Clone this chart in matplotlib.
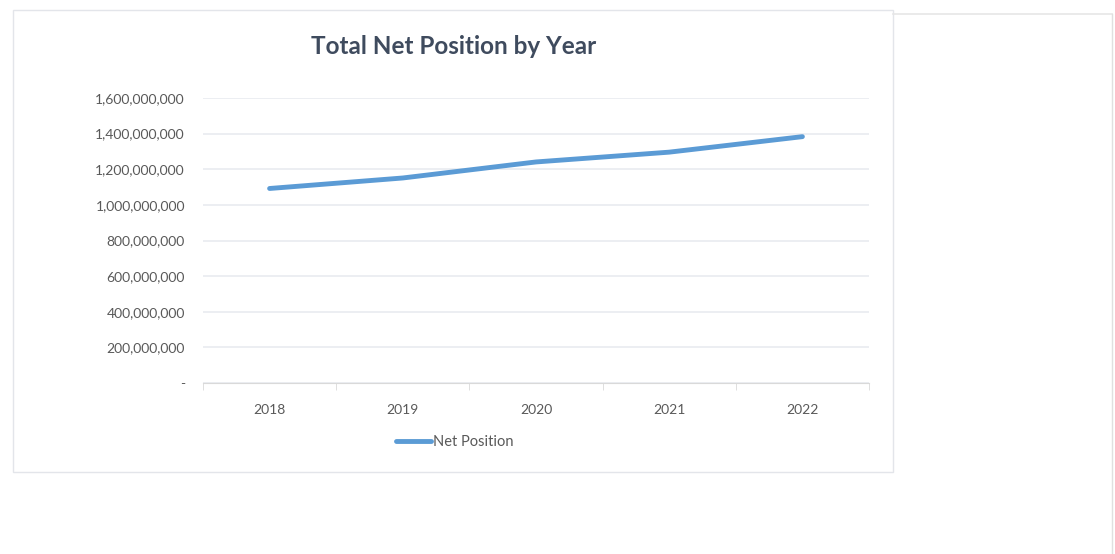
import matplotlib
matplotlib.use("Agg")
import matplotlib.pyplot as plt
from matplotlib.patches import Rectangle
from matplotlib.ticker import FuncFormatter, FixedLocator

# data
years = ["2018", "2019", "2020", "2021", "2022"]
net_position = [1092000000, 1151000000, 1241000000, 1296000000, 1383000000]
y_ticks = [0, 200000000, 400000000, 600000000, 800000000,
           1000000000, 1200000000, 1400000000, 1600000000]

plt.rcParams["font.family"] = ["Lato", "DejaVu Sans"]

W, H = 1115, 554
fig = plt.figure(figsize=(W / 100, H / 100), dpi=100)
fig.patch.set_facecolor("white")

# chart frame + faint panel on the right
fig.patches.append(Rectangle((13 / W, 1 - 472 / H), 880 / W, 462 / H,
                             transform=fig.transFigure, fill=False,
                             edgecolor="#e3e5ea", linewidth=1.0, zorder=0))
fig.add_artist(plt.Line2D([893 / W, 1112 / W], [1 - 14 / H, 1 - 14 / H],
                          transform=fig.transFigure, color="#e6e6e6", lw=1.2))
fig.add_artist(plt.Line2D([1112 / W, 1112 / W], [1 - 14 / H, 0],
                          transform=fig.transFigure, color="#e0e0e0", lw=1.0))

ax = fig.add_axes([203 / W, 1 - 383 / H, 666 / W, 285 / H])
x = list(range(len(years)))
ax.plot(x, net_position, color="#5B9BD5", lw=3.5, solid_capstyle="round",
        label="Net Position", zorder=3)

ax.set_xlim(-0.5, len(years) - 0.5)
ax.set_ylim(0, 1600000000)
ax.set_yticks(y_ticks)
ax.yaxis.set_major_formatter(FuncFormatter(lambda v, p: "-" if v == 0 else f"{v:,.0f}"))
ax.grid(axis="y", color="#e9ebf0", lw=1.2)
ax.set_axisbelow(True)

ax.set_xticks(x)
ax.set_xticklabels(years)
ax.xaxis.set_minor_locator(FixedLocator([i - 0.5 for i in range(len(years) + 1)]))
ax.tick_params(axis="x", which="major", length=0, pad=15, labelsize=10, labelcolor="#595959")
ax.tick_params(axis="x", which="minor", length=5, color="#d9d9d9", direction="out")
ax.tick_params(axis="y", length=0, pad=13, labelsize=10, labelcolor="#595959")

for s in ["top", "right", "left"]:
    ax.spines[s].set_visible(False)
ax.spines["bottom"].set_color("#d9d9d9")

fig.text(454 / W, 1 - 47 / H, "Total Net Position by Year", ha="center", va="center",
         fontsize=17.5, fontweight="bold", color="#3F4B5E")

leg = fig.legend(loc="center", bbox_to_anchor=(455 / W, 1 - 442 / H), frameon=False,
                 handlelength=2.4, handletextpad=0.15, fontsize=10.5)
for t in leg.get_texts():
    t.set_color("#595959")

fig.savefig("out.png", dpi=100, facecolor="white")
